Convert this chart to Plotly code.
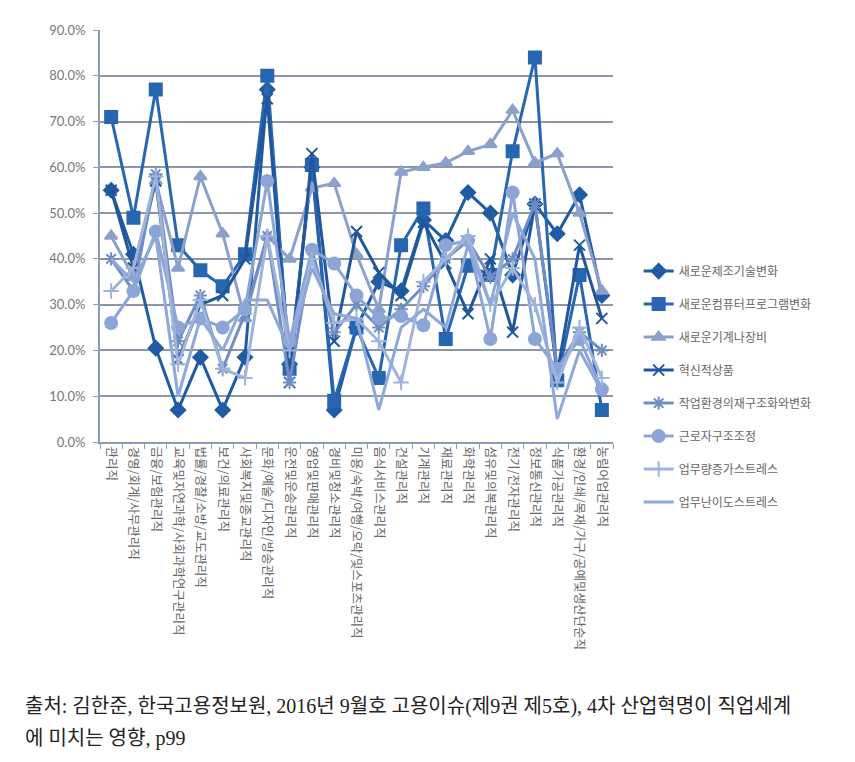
import plotly.graph_objects as go

categories = [
    '관리직', '경영/회계/사무관리직', '금융/보험관리직', '교육및자연과학/사회과학연구관리직',
    '법률/경찰/소방/교도관리직', '보건/의료관리직', '사회복지및종교관리직', '문화/예술/디자인/방송관리직',
    '운전및운송관리직', '영업및판매관리직', '경비및청소관리직', '미용/숙박/여행/오락/및스포츠관리직',
    '음식서비스관리직', '건설관리직', '기계관리직', '재료관리직', '화학관리직', '섬유및의복관리직',
    '전기/전자관리직', '정보통신관리직', '식품가공관리직', '환경/인쇄/목재/가구/공예및생산단순직',
    '농림어업관리직',
]

manufacturing_tech = [55, 41, 20.5, 7, 18.5, 7, 18.5, 77, 17, 60, 7, 25, 35, 33, 48.5, 44, 54.5, 50, 36.5, 52, 45.5, 54, 32]
computer_program = [71, 49, 77, 43, 37.5, 34, 41, 80, 16, 60.5, 9, 25, 14, 43, 51, 22.5, 38.5, 36.5, 63.5, 84, 13.5, 36.5, 7]
machine_equipment = [45, 36, 57, 38, 58, 45.5, 27, 45, 40, 55.5, 56.5, 41, 29, 59, 60, 61, 63.5, 65, 72.5, 61, 63, 50, 33]
innovative_product = [55, 38, 57, 18, 30, 32, 40, 75, 13, 63, 22, 46, 37, 32, 48, 39, 28, 40, 24, 52, 15, 43, 27]
work_restructuring = [40, 33, 58.5, 22, 32, 16, 28, 45, 13, 42, 24, 30, 25, 29, 34, 40, 44, 36, 40, 52, 16, 24, 20]
worker_restructuring = [26, 33, 46, 25, 27, 25, 29, 57, 22, 42, 39, 32, 27, 27.5, 25.5, 43, 44, 22.5, 54.5, 22.5, 16, 22.5, 11.5]
workload_stress = [33, 38, 58, 17, 31, 16, 14, 45, 20, 40, 26, 27, 22, 13, 35, 40, 45, 30, 38, 30, 13, 25, 14]
difficulty_stress = [40, 35, 45, 10, 27, 20, 31, 31, 20, 38, 28, 27, 7, 25, 29, 25, 43, 30, 50, 40, 5, 20, 11]

series = [
    ('새로운제조기술변화', manufacturing_tech, '#1f5ca3', 'diamond', 11),
    ('새로운컴퓨터프로그램변화', computer_program, '#2766b0', 'square', 12),
    ('새로운기계나장비', machine_equipment, '#8ca0cc', 'triangle-up', 11),
    ('혁신적상품', innovative_product, '#22569c', 'x-thin', 11),
    ('작업환경의재구조화와변화', work_restructuring, '#6f8dc4', 'asterisk', 11),
    ('근로자구조조정', worker_restructuring, '#8ba6d6', 'circle', 12),
    ('업무량증가스트레스', workload_stress, '#a0b4db', 'cross-thin', 11),
    ('업무난이도스트레스', difficulty_stress, '#8ea9d9', None, 0),
]

source_lines = [
    '출처: 김한준, 한국고용정보원, 2016년 9월호 고용이슈(제9권 제5호), 4차 산업혁명이 직업세계',
    '에 미치는 영향, p99',
]

fig = go.Figure()
for i, (name, vals, color, symbol, size) in enumerate(series):
    if symbol is None:
        mode = 'lines'
        marker = None
    else:
        mode = 'lines+markers'
        marker = dict(symbol=symbol, size=size, color=color, line=dict(color=color, width=2))
    fig.add_trace(go.Scatter(
        x=categories, y=vals, name=name, mode=mode,
        line=dict(color=color, width=3), marker=marker,
        legendgroup='g%d' % i,
    ))

fig.update_xaxes(
    type='category', range=[-0.5, len(categories) - 0.5],
    tickson='boundaries', ticks='outside', ticklen=5, tickcolor='#8a9cb8',
    tickangle=90, showline=True, linecolor='#8a9cb8', linewidth=2,
    showgrid=False, tickfont=dict(family='Noto Sans CJK KR', size=12.5, color='#666666'),
)
fig.update_yaxes(
    range=[0, 90], dtick=10, tickformat='.1f', ticksuffix='%',
    ticks='outside', ticklen=5, tickcolor='#8a9cb8', ticklabelstandoff=5,
    showline=True, linecolor='#8a9cb8', linewidth=2,
    showgrid=True, gridcolor='#8c96a8', gridwidth=1.5, zeroline=False,
    tickfont=dict(family='Lato', size=13, color='#777777'),
)

# source note under the chart, two lines
for k, line in enumerate(source_lines):
    fig.add_annotation(
        text=line, xref='paper', yref='paper',
        x=-0.15, y=-0.643 - k * 0.076, xanchor='left', yanchor='middle',
        showarrow=False, align='left',
        font=dict(family='Liberation Serif, Noto Sans CJK KR', size=20, color='#222222'),
    )

fig.update_layout(
    width=855, height=762,
    margin=dict(l=92, r=250, t=22, b=328),
    plot_bgcolor='white', paper_bgcolor='white',
    legend=dict(
        x=1.05, y=0.45, xanchor='left', yanchor='top',
        traceorder='grouped', tracegroupgap=14,
        font=dict(family='Noto Sans CJK KR', size=12, color='#666666'),
    ),
)

fig.write_html('out.html')
